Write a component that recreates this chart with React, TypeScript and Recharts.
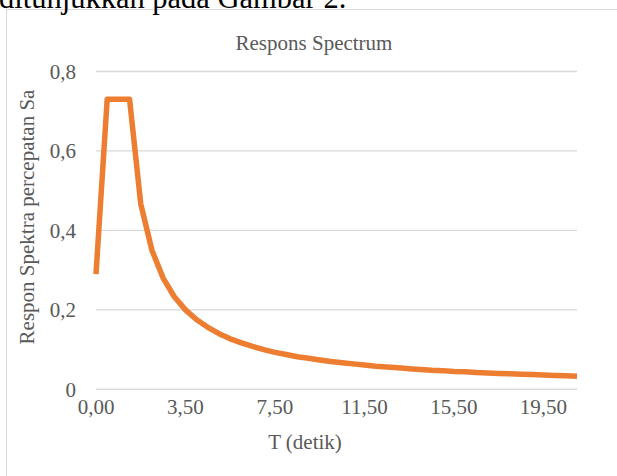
import React from "react";
import { LineChart, Line, XAxis, YAxis, CartesianGrid } from "recharts";

// periods (s) on the category axis
const T_VALUES = [
  0, 0.19, 0.5, 0.96, 1.5, 2, 2.5, 3, 3.5, 4, 4.5, 5, 5.5, 6, 6.5, 7, 7.5, 8,
  8.5, 9, 9.5, 10, 10.5, 11, 11.5, 12, 12.5, 13, 13.5, 14, 14.5, 15, 15.5, 16,
  16.5, 17, 17.5, 18, 18.5, 19, 19.5, 20, 20.5, 21,
];

// spectral acceleration
const SA_VALUES = [
  0.29, 0.73, 0.73, 0.73, 0.467, 0.35, 0.28, 0.233, 0.2, 0.175, 0.156, 0.14,
  0.127, 0.117, 0.108, 0.1, 0.093, 0.0875, 0.082, 0.078, 0.074, 0.07, 0.067,
  0.064, 0.061, 0.058, 0.056, 0.054, 0.052, 0.05, 0.048, 0.047, 0.045, 0.044,
  0.042, 0.041, 0.04, 0.039, 0.038, 0.037, 0.036, 0.035, 0.034, 0.033,
];

const Y_TICKS = [0, 0.2, 0.4, 0.6, 0.8];

const data = T_VALUES.map((t, i) => ({ t, sa: SA_VALUES[i] }));

const FONT = "'Liberation Serif', 'Times New Roman', serif";
const TEXT = "#595959";
const GRID = "#d9d9d9";

const fmtT = (v: number) => v.toFixed(2).replace(".", ",");
const fmtSa = (v: number) => String(v).replace(".", ",");

export default function App() {
  return (
    <div
      style={{
        position: "absolute",
        left: 0,
        top: 0,
        width: 617,
        height: 476,
        overflow: "hidden",
        background: "#fff",
      }}
    >
      {/* chart frame, only top and left edges fall inside the crop */}
      <div
        style={{
          position: "absolute",
          left: 5.5,
          top: 9,
          width: 640,
          height: 500,
          border: `1.5px solid ${GRID}`,
          boxSizing: "border-box",
        }}
      />

      <LineChart
        width={617}
        height={476}
        data={data}
        margin={{ top: 71.5, right: 40, left: 0, bottom: 56.7 }}
        style={{ position: "absolute", left: 0, top: 0 }}
      >
        <CartesianGrid vertical={false} stroke={GRID} strokeWidth={1.3} />
        <XAxis
          dataKey="t"
          interval={7}
          tickFormatter={fmtT}
          tick={{ fill: TEXT, fontSize: 21, fontFamily: FONT }}
          tickLine={false}
          tickSize={0}
          tickMargin={10}
          axisLine={{ stroke: GRID, strokeWidth: 1.3 }}
          height={30}
        />
        <YAxis
          type="number"
          domain={[0, 0.8]}
          ticks={Y_TICKS}
          tickFormatter={fmtSa}
          tick={{ fill: TEXT, fontSize: 21, fontFamily: FONT }}
          tickLine={false}
          tickSize={0}
          tickMargin={20}
          axisLine={false}
          width={96}
        />
        <Line
          type="linear"
          dataKey="sa"
          stroke="#ED7D31"
          strokeWidth={5.5}
          strokeLinejoin="round"
          dot={false}
          activeDot={false}
          isAnimationActive={false}
        />
      </LineChart>

      <svg
        width={617}
        height={476}
        style={{ position: "absolute", left: 0, top: 0, pointerEvents: "none" }}
      >
        {/* tail of the sentence above the figure */}
        <text x={-1} y={7.5} fontSize={30.5} fontFamily={FONT} fill="#000">
          ditunjukkan pada Gambar 2.
        </text>
        <text
          x={314}
          y={50}
          textAnchor="middle"
          fontSize={21}
          fontFamily={FONT}
          fill={TEXT}
        >
          Respons Spectrum
        </text>
        <text
          x={305}
          y={449}
          textAnchor="middle"
          fontSize={21}
          fontFamily={FONT}
          fill={TEXT}
        >
          T (detik)
        </text>
        <text
          x={34}
          y={217}
          transform="rotate(-90 34 217)"
          textAnchor="middle"
          fontSize={21}
          fontFamily={FONT}
          fill={TEXT}
        >
          Respon Spektra percepatan Sa
        </text>
      </svg>
    </div>
  );
}
